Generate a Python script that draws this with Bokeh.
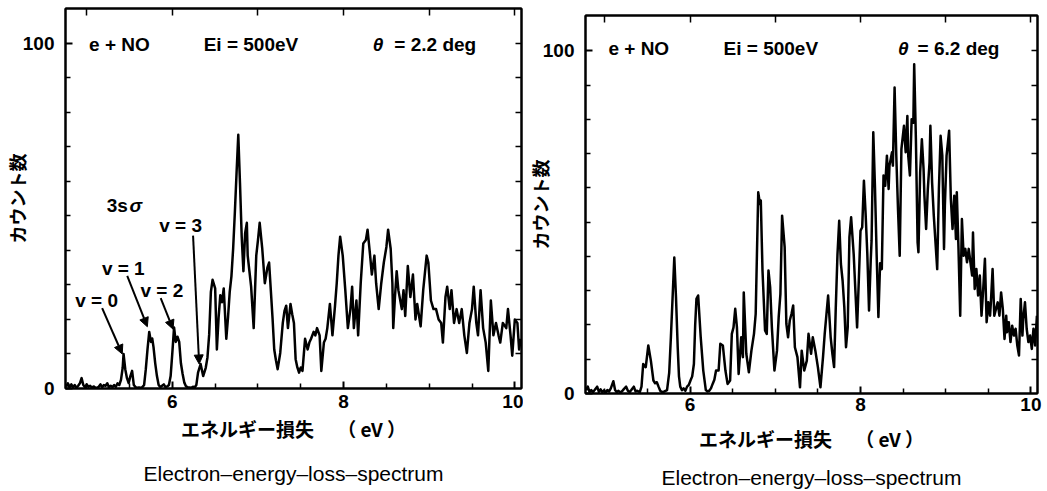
from bokeh.plotting import figure
from bokeh.layouts import row, column
from bokeh.models import (Range1d, FixedTicker, LinearAxis, Label, Arrow,
                          NormalHead, ColumnDataSource, Spacer)
from bokeh.embed import file_html
from bokeh.resources import INLINE

# ---------------- data ----------------
# Left panel: theta = 2.2 deg
energy_22 = [
    4.76, 4.78, 4.80, 4.82, 4.84, 4.86, 4.88, 4.90, 4.92, 4.94, 4.96, 4.98, 5.00, 5.02, 5.04,
    5.06, 5.08, 5.10, 5.12, 5.14, 5.16, 5.18, 5.20, 5.22, 5.24, 5.26, 5.28, 5.30, 5.32, 5.34,
    5.36, 5.38, 5.40, 5.42, 5.43, 5.45, 5.47, 5.49, 5.51, 5.53, 5.55, 5.57, 5.59, 5.61, 5.63,
    5.65, 5.67, 5.69, 5.71, 5.73, 5.75, 5.765, 5.78, 5.80, 5.82, 5.84, 5.86, 5.88, 5.90, 5.92,
    5.94, 5.96, 5.98, 6.00, 6.02, 6.04, 6.06, 6.08, 6.10, 6.12, 6.14, 6.16, 6.18, 6.20, 6.22,
    6.24, 6.26, 6.28, 6.30, 6.33, 6.36, 6.39, 6.41, 6.43, 6.45, 6.47, 6.50, 6.52, 6.54, 6.56,
    6.58, 6.60, 6.63, 6.65, 6.67, 6.69, 6.71, 6.73, 6.75, 6.77, 6.79, 6.81, 6.83, 6.85, 6.87,
    6.88, 6.90, 6.92, 6.95, 6.98, 7.00, 7.02, 7.05, 7.08, 7.11, 7.13, 7.15, 7.17, 7.19, 7.21,
    7.23, 7.26, 7.29, 7.31, 7.33, 7.35, 7.38, 7.40, 7.42, 7.44, 7.46, 7.48, 7.50, 7.52, 7.55,
    7.58, 7.60, 7.62, 7.65, 7.67, 7.69, 7.72, 7.74, 7.77, 7.79, 7.81, 7.84, 7.87, 7.90, 7.92,
    7.94, 7.96, 7.99, 8.02, 8.05, 8.08, 8.10, 8.12, 8.15, 8.17, 8.20, 8.23, 8.26, 8.28, 8.31,
    8.33, 8.36, 8.38, 8.41, 8.44, 8.47, 8.50, 8.52, 8.55, 8.57, 8.58, 8.60, 8.62, 8.64, 8.68,
    8.70, 8.72, 8.75, 8.78, 8.81, 8.84, 8.86, 8.90, 8.93, 8.97, 8.99, 9.02, 9.05, 9.08, 9.11,
    9.14, 9.16, 9.19, 9.21, 9.24, 9.26, 9.29, 9.32, 9.35, 9.38, 9.41, 9.44, 9.47, 9.50, 9.52,
    9.55, 9.57, 9.60, 9.63, 9.66, 9.69, 9.72, 9.75, 9.78, 9.81, 9.83, 9.86, 9.90, 9.92, 9.95,
    9.97, 10.00, 10.03, 10.05, 10.07,
]
counts_22 = [
    0.5, 1.5, 0.3, 1.2, 0.4, 1.0, 0.2, 0.8, 1.5, 3.0, 1.0, 0.4, 1.2, 0.5, 0.8,
    0.2, 0.6, 0.3, 0.2, 0.5, 1.2, 0.4, 1.0, 0.8, 1.5, 0.3, 0.8, 0.4, 1.0, 0.5,
    1.5, 1.0, 2.5, 6.0, 10.0, 5.6, 3.0, 1.6, 3.6, 5.1, 1.0, 0.4, 0.2, 0.3, 0.2,
    0.4, 1.0, 5.6, 11.4, 16.4, 13.5, 14.5, 12.0, 7.3, 3.6, 1.0, 0.4, 0.8, 1.2, 0.4,
    0.6, 1.0, 3.6, 10.4, 17.7, 13.5, 15.0, 13.5, 7.3, 4.2, 1.7, 0.6, 0.4, 0.3, 0.2,
    0.5, 0.3, 1.0, 4.6, 7.1, 3.6, 6.0, 9.0, 15.6, 28.0, 31.5, 29.0, 11.3, 20.5, 27.0,
    25.0, 29.0, 14.4, 20.5, 28.0, 32.5, 40.5, 51.0, 62.5, 73.5, 59.5, 44.0, 34.0, 45.0, 48.0,
    38.5, 34.0, 29.5, 17.5, 38.5, 43.0, 48.0, 40.5, 30.5, 35.0, 36.5, 28.5, 20.5, 11.3, 8.2,
    5.6, 10.3, 19.0, 22.5, 24.0, 17.5, 24.5, 21.5, 19.0, 8.5, 6.1, 4.6, 6.1, 5.1, 14.4,
    11.3, 13.3, 14.4, 16.4, 15.4, 17.5, 15.4, 5.1, 13.3, 14.4, 17.5, 24.5, 15.4, 24.0, 30.5,
    38.5, 44.0, 38.5, 28.5, 17.5, 23.0, 29.5, 17.5, 25.5, 15.4, 30.5, 42.0, 43.0, 46.0, 38.5,
    33.0, 38.5, 30.5, 23.0, 30.5, 36.5, 41.0, 46.0, 40.5, 30.5, 17.5, 26.5, 34.0, 28.5, 23.0,
    28.5, 21.0, 35.5, 26.5, 33.0, 20.0, 24.5, 18.0, 28.5, 38.5, 36.5, 25.5, 23.0, 23.0, 20.0,
    19.0, 13.3, 26.5, 29.5, 23.0, 28.5, 19.0, 23.0, 19.0, 23.0, 15.4, 10.3, 19.0, 23.0, 29.5,
    19.0, 15.4, 28.5, 17.5, 13.3, 5.1, 25.5, 15.4, 19.0, 15.4, 13.3, 19.0, 17.5, 23.0, 15.4,
    9.5, 20.0, 19.0, 11.3, 14.4,
]

# Right panel: theta = 6.2 deg
energy_62 = [
    4.78, 4.80, 4.82, 4.84, 4.86, 4.88, 4.91, 4.93, 4.95, 4.97, 4.99, 5.01, 5.03, 5.05, 5.07,
    5.10, 5.12, 5.14, 5.16, 5.18, 5.20, 5.22, 5.25, 5.27, 5.29, 5.31, 5.34, 5.36, 5.38, 5.41,
    5.43, 5.45, 5.48, 5.51, 5.54, 5.57, 5.59, 5.61, 5.63, 5.65, 5.67, 5.70, 5.73, 5.755, 5.775,
    5.795, 5.815, 5.835, 5.855, 5.87, 5.885, 5.905, 5.925, 5.945, 5.965, 5.985, 6.005, 6.025, 6.045, 6.06,
    6.075, 6.095, 6.125, 6.155, 6.185, 6.205, 6.225, 6.245, 6.265, 6.285, 6.305, 6.335, 6.355, 6.385, 6.415,
    6.44, 6.47, 6.49, 6.51, 6.53, 6.55, 6.57, 6.60, 6.62, 6.63, 6.66, 6.69, 6.72, 6.75, 6.77,
    6.80, 6.82, 6.83, 6.85, 6.88, 6.90, 6.92, 6.94, 6.96, 6.99, 7.02, 7.04, 7.06, 7.08, 7.11,
    7.13, 7.15, 7.17, 7.19, 7.21, 7.23, 7.26, 7.29, 7.31, 7.34, 7.37, 7.39, 7.42, 7.44, 7.47,
    7.50, 7.53, 7.56, 7.58, 7.62, 7.65, 7.67, 7.69, 7.71, 7.73, 7.75, 7.77, 7.79, 7.81, 7.83,
    7.85, 7.87, 7.89, 7.92, 7.94, 7.96, 7.98, 8.00, 8.02, 8.04, 8.06, 8.08, 8.10, 8.12, 8.13,
    8.15, 8.17, 8.19, 8.21, 8.23, 8.25, 8.27, 8.29, 8.31, 8.33, 8.34, 8.37, 8.38, 8.40, 8.42,
    8.44, 8.46, 8.48, 8.51, 8.53, 8.55, 8.56, 8.58, 8.60, 8.62, 8.63, 8.65, 8.67, 8.68, 8.70,
    8.72, 8.74, 8.75, 8.77, 8.79, 8.81, 8.82, 8.84, 8.86, 8.88, 8.90, 8.92, 8.94, 8.96, 8.98,
    8.99, 9.01, 9.04, 9.06, 9.08, 9.10, 9.12, 9.13, 9.15, 9.17, 9.19, 9.21, 9.23, 9.25, 9.27,
    9.29, 9.31, 9.32, 9.34, 9.36, 9.38, 9.40, 9.42, 9.44, 9.46, 9.48, 9.50, 9.52, 9.53, 9.55,
    9.57, 9.59, 9.61, 9.63, 9.65, 9.67, 9.69, 9.71, 9.72, 9.74, 9.76, 9.78, 9.80, 9.82, 9.84,
    9.86, 9.88, 9.90, 9.91, 9.93, 9.95, 9.97, 9.99, 10.01, 10.03, 10.05, 10.07,
]
counts_62 = [
    1.0, 2.0, 0.5, 1.0, 0.4, 1.0, 2.0, 0.5, 1.2, 0.4, 0.9, 0.3, 1.0, 0.6, 1.5,
    3.6, 1.0, 0.4, 0.8, 0.3, 0.6, 1.2, 2.0, 0.8, 0.4, 1.0, 2.0, 0.6, 0.8, 0.4,
    2.0, 8.6, 7.7, 14.0, 9.6, 3.8, 3.0, 3.3, 2.0, 0.8, 0.4, 0.6, 1.0, 6.0, 16.4,
    28.0, 39.7, 28.0, 13.5, 5.0, 2.0, 1.0, 1.5, 0.8, 2.0, 2.5, 3.8, 5.0, 8.6, 20.0,
    27.6, 28.6, 16.4, 6.7, 1.0, 0.6, 0.8, 1.5, 2.8, 4.0, 6.7, 6.7, 14.5, 14.0, 6.7,
    2.8, 3.8, 17.4, 19.3, 24.7, 19.3, 5.7, 16.4, 10.6, 29.5, 11.6, 6.2, 12.5, 17.4, 23.2,
    58.7, 55.3, 56.3, 35.9, 18.4, 17.4, 35.9, 31.0, 19.3, 6.7, 12.5, 22.3, 29.0, 51.9, 42.7,
    20.3, 16.4, 21.3, 23.2, 25.7, 13.5, 10.6, 1.8, 12.5, 6.7, 9.6, 17.4, 11.6, 16.4, 12.5,
    7.7, 1.8, 10.6, 17.4, 28.6, 16.4, 11.6, 7.7, 25.2, 40.7, 50.4, 37.8, 32.9, 25.2, 13.5,
    19.3, 45.6, 51.4, 40.7, 30.0, 19.3, 32.9, 47.5, 48.5, 62.1, 52.4, 40.7, 24.2, 38.8, 44.6,
    76.2, 60.0, 40.0, 22.3, 38.0, 36.3, 63.6, 60.6, 69.4, 59.7, 66.5, 70.4, 66.5, 89.3, 69.4,
    53.8, 40.2, 71.3, 78.1, 70.4, 81.0, 69.4, 63.6, 80.0, 79.0, 96.1, 74.2, 44.1, 41.2, 64.5,
    74.2, 65.5, 57.7, 48.0, 59.7, 67.4, 78.1, 61.6, 51.9, 44.1, 36.3, 59.7, 75.2, 69.4, 42.2,
    54.8, 69.4, 76.7, 56.8, 48.0, 57.7, 45.1, 58.7, 42.2, 22.7, 50.9, 40.2, 42.2, 38.3, 42.2,
    38.3, 34.4, 47.0, 30.5, 36.3, 28.6, 34.4, 22.7, 30.5, 39.3, 20.8, 26.6, 22.7, 26.6, 36.3,
    22.7, 24.7, 26.6, 22.7, 29.5, 24.7, 15.9, 22.7, 17.9, 20.8, 15.0, 19.8, 16.9, 18.9, 14.0,
    11.1, 27.6, 16.9, 21.8, 26.6, 18.9, 15.0, 16.9, 13.0, 18.9, 14.0, 22.7,
]

x_major_ticks = [6, 8, 10]
x_minor_ticks = [5.0, 5.5, 6.5, 7.0, 7.5, 8.5, 9.0, 9.5]
x_top_ticks = [5, 6, 7, 8, 9, 10]
y_major_ticks = [0, 100]
y_minor_ticks = [10, 20, 30, 40, 50, 60, 70, 80, 90]
y_right_ticks = [10, 20, 30, 40, 50, 60, 70, 80, 90, 100]

x_label = "エネルギー損失　 （ eV ）"
y_label = "カウント数"
footnote = "Electron–energy–loss–spectrum"

LATIN = "Liberation Sans"
CJK = "Noto Sans CJK JP"


def style_axis(ax):
    ax.axis_line_width = 2
    ax.axis_line_color = "black"
    ax.major_tick_in = 7
    ax.major_tick_out = 0
    ax.minor_tick_in = 5
    ax.minor_tick_out = 0
    ax.major_tick_line_width = 2
    ax.minor_tick_line_width = 1.5
    ax.major_tick_line_color = "black"
    ax.minor_tick_line_color = "black"
    ax.major_label_text_font = LATIN
    ax.major_label_text_font_style = "bold"
    ax.major_label_text_font_size = "19px"
    ax.major_label_text_color = "black"
    ax.axis_label_text_color = "black"


def make_panel(energy, counts, width, height, x_range, y_range, borders,
               theta_text, header_y, header_x, ylab_standoff, xlab_standoff,
               tick_standoff, foot_standoff):
    left, right, top, bottom = borders
    p = figure(width=width, height=height, output_backend="svg", toolbar_location=None,
               x_range=Range1d(*x_range), y_range=Range1d(*y_range),
               min_border_left=left, min_border_right=right,
               min_border_top=top, min_border_bottom=bottom,
               background_fill_color="white", border_fill_color="white")
    p.grid.visible = False
    p.outline_line_color = "black"
    p.outline_line_width = 2

    src = ColumnDataSource(dict(x=energy, y=counts))
    p.line("x", "y", source=src, line_color="black", line_width=2.5,
           line_join="round")

    # bottom axis
    xa = p.xaxis[0]
    xa.ticker = FixedTicker(ticks=x_major_ticks, minor_ticks=x_minor_ticks)
    style_axis(xa)
    xa.major_label_standoff = tick_standoff
    xa.axis_label = x_label
    xa.axis_label_text_font = CJK
    xa.axis_label_text_font_style = "bold"
    xa.axis_label_text_font_size = "19px"
    xa.axis_label_standoff = xlab_standoff

    # footnote as the title of a tick-less second bottom axis
    foot_ax = LinearAxis(ticker=FixedTicker(ticks=[], minor_ticks=[]))
    foot_ax.axis_line_color = None
    foot_ax.major_tick_line_color = None
    foot_ax.minor_tick_line_color = None
    foot_ax.major_label_standoff = 0
    foot_ax.major_tick_out = 0
    foot_ax.minor_tick_out = 0
    foot_ax.axis_label = footnote
    foot_ax.axis_label_text_font = LATIN
    foot_ax.axis_label_text_font_size = "21px"
    foot_ax.axis_label_text_font_style = "normal"
    foot_ax.axis_label_text_color = "black"
    foot_ax.axis_label_standoff = foot_standoff
    p.add_layout(foot_ax, "below")

    # left axis
    ya = p.yaxis[0]
    ya.ticker = FixedTicker(ticks=y_major_ticks, minor_ticks=y_minor_ticks)
    style_axis(ya)
    ya.major_label_standoff = 11
    ya.axis_label = y_label
    ya.axis_label_text_font = CJK
    ya.axis_label_text_font_style = "bold"
    ya.axis_label_text_font_size = "18px"
    ya.axis_label_standoff = ylab_standoff

    # top and right axes: ticks only
    top_ax = LinearAxis(ticker=FixedTicker(ticks=[], minor_ticks=x_top_ticks))
    style_axis(top_ax)
    top_ax.minor_tick_in = 7
    top_ax.major_label_standoff = 0
    p.add_layout(top_ax, "above")
    right_ax = LinearAxis(ticker=FixedTicker(ticks=[], minor_ticks=y_right_ticks))
    style_axis(right_ax)
    right_ax.minor_tick_in = 6
    right_ax.major_label_standoff = 0
    p.add_layout(right_ax, "right")

    # header
    ex, eix, thx, eqx = header_x
    kw = dict(text_font=LATIN, text_font_size="19px", text_font_style="bold",
              text_baseline="middle", text_align="left", text_color="black")
    p.add_layout(Label(x=ex, y=header_y, text="e + NO", **kw))
    p.add_layout(Label(x=eix, y=header_y, text="Ei = 500eV", **kw))
    kwi = dict(kw)
    kwi["text_font_style"] = "bold italic"
    p.add_layout(Label(x=thx, y=header_y, text="θ", **kwi))
    p.add_layout(Label(x=eqx, y=header_y, text=theta_text, **kw))
    return p, kw, kwi


p1, kw, kwi = make_panel(energy_22, counts_22, 523, 491, (4.752, 10.078), (0, 110.1),
                         (59, 2, 8, 103), "=  2.2 deg", 99.8,
                         (5.027, 6.366, 8.34, 8.593), -10, 4, 6, 17)

# annotations of the 3s sigma vibrational levels
p1.add_layout(Label(x=5.234, y=53, text="3s", **kw))
p1.add_layout(Label(x=5.5, y=53, text="σ", **kwi))
v_labels = ["v = 0", "v = 1", "v = 2", "v = 3"]
v_label_pos = [(4.865, 25.5), (5.177, 34.8), (5.628, 28.4), (5.846, 47.2)]
v_arrows = [((5.18, 23.3), (5.415, 10.0)), ((5.473, 32.6), (5.708, 17.9)),
            ((5.864, 26.2), (6.008, 17.2)), ((6.242, 44.3), (6.313, 7.1))]
for txt, (lx, ly), ((xs, ys), (xe, ye)) in zip(v_labels, v_label_pos, v_arrows):
    p1.add_layout(Label(x=lx, y=ly, text=txt, **kw))
    p1.add_layout(Arrow(x_start=xs, y_start=ys, x_end=xe, y_end=ye, line_width=2,
                        line_color="black",
                        end=NormalHead(size=9, fill_color="black", line_color="black")))

p2, _, _ = make_panel(energy_62, counts_62, 524, 484, (4.773, 10.077), (0, 110.3),
                      (52, 10, 8, 96), "=  6.2 deg", 100.7,
                      (5.042, 6.393, 8.439, 8.67), -13, 11, 4, 11)

layout = row(p1, column(Spacer(width=524, height=7), p2, spacing=0), spacing=0)
open("out.html", "w").write(file_html(layout, INLINE))
